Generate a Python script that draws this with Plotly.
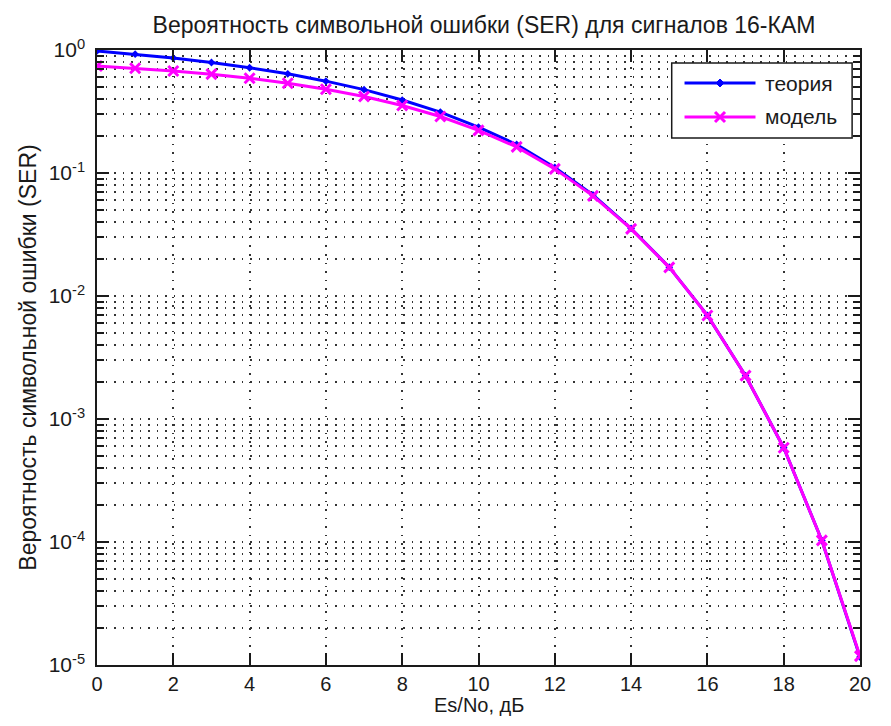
import plotly.graph_objects as go

snr_db = [0, 1, 2, 3, 4, 5, 6, 7, 8, 9, 10, 11, 12, 13, 14, 15, 16, 17, 18, 19, 20]
ser_theory = [0.982, 0.924, 0.860, 0.791, 0.717, 0.640, 0.558, 0.476, 0.392, 0.313,
              0.236, 0.1705, 0.111, 0.0663, 0.0354, 0.01716, 0.00696, 0.00225,
              0.000584, 0.000103, 0.0000116]
ser_model = [0.741, 0.711, 0.675, 0.636, 0.589, 0.537, 0.480, 0.419, 0.354, 0.288,
             0.222, 0.163, 0.108, 0.0652, 0.0351, 0.01709, 0.00695, 0.00225,
             0.000584, 0.000103, 0.0000118]
series_names = ["теория", "модель"]
series_colors = ["#0000ff", "#ff00ff"]

y_tickvals = [1e-5, 1e-4, 1e-3, 1e-2, 1e-1, 1e0]
y_ticktext = ["10<sup>-5</sup>", "10<sup>-4</sup>", "10<sup>-3</sup>",
              "10<sup>-2</sup>", "10<sup>-1</sup>", "10<sup>0</sup>"]
x_tickvals = [0, 2, 4, 6, 8, 10, 12, 14, 16, 18, 20]

FONT = "Liberation Sans, Arial, sans-serif"
TXT = "#1a1a1a"

# the page body adds an 8px margin; size the figure so it never overflows the window
OFF = 8
W, H = 891 - 2 * OFF, 726 - 2 * OFF
L, T = 97 - OFF, 50 - OFF
R = 12
B = H - (665 - OFF)
PW, PH = W - L - R, H - T - B


def px(x_page):
    return (x_page - OFF - L) / PW


def py(y_page):
    return (H - B - (y_page - OFF)) / PH


fig = go.Figure()
fig.add_trace(go.Scatter(
    x=snr_db, y=ser_theory, mode="lines+markers", name=series_names[0],
    line=dict(color=series_colors[0], width=3),
    marker=dict(symbol="diamond", size=6, color=series_colors[0]),
))
fig.add_trace(go.Scatter(
    x=snr_db, y=ser_model, mode="lines+markers", name=series_names[1],
    line=dict(color=series_colors[1], width=3),
    marker=dict(symbol="x-thin", size=10, color=series_colors[1],
                line=dict(color=series_colors[1], width=3)),
))

# MATLAB-like legend box
shapes = [dict(type="rect", xref="paper", yref="paper",
               x0=px(680), x1=px(863), y0=py(138), y1=py(63),
               line=dict(color=TXT, width=1.5), fillcolor="white", layer="above")]
annotations = []
legend_rows = [83, 117]
for i, yrow in enumerate(legend_rows):
    shapes.append(dict(type="line", xref="paper", yref="paper",
                       x0=px(693), x1=px(765), y0=py(yrow), y1=py(yrow),
                       line=dict(color=series_colors[i], width=3), layer="above"))
    if i == 0:
        path = "M-4,0 L0,-4 L4,0 L0,4 Z"
        shapes.append(dict(type="path", xref="paper", yref="paper",
                           xsizemode="pixel", ysizemode="pixel",
                           xanchor=px(729), yanchor=py(yrow), path=path,
                           fillcolor=series_colors[i],
                           line=dict(color=series_colors[i], width=1), layer="above"))
    else:
        path = "M-5,-5 L5,5 M-5,5 L5,-5"
        shapes.append(dict(type="path", xref="paper", yref="paper",
                           xsizemode="pixel", ysizemode="pixel",
                           xanchor=px(729), yanchor=py(yrow), path=path,
                           line=dict(color=series_colors[i], width=3), layer="above"))
    annotations.append(dict(text=series_names[i], xref="paper", yref="paper",
                            x=px(773), y=py(yrow), xanchor="left", yanchor="middle",
                            showarrow=False, font=dict(family=FONT, size=21, color=TXT)))

annotations.append(dict(text="Es/No, дБ", xref="paper", yref="paper",
                        x=0.5, y=py(705), xanchor="center", yanchor="middle",
                        showarrow=False, font=dict(family=FONT, size=20, color=TXT)))

fig.update_layout(
    width=W, height=H,
    margin=dict(l=L, r=R, t=T, b=B),
    paper_bgcolor="white", plot_bgcolor="white",
    font=dict(family=FONT, size=20, color=TXT),
    title=dict(text="Вероятность символьной ошибки (SER) для сигналов 16-КАМ",
               x=(L + PW / 2) / W, xanchor="center", y=1 - (25 - OFF) / H, yanchor="middle",
               font=dict(family=FONT, size=23, color=TXT)),
    showlegend=False,
    shapes=shapes,
    annotations=annotations,
)

GRID = "#333333"
DASH = "1.5px,7px"
fig.update_xaxes(
    range=[0, 20], tickvals=x_tickvals,
    showline=True, linecolor=TXT, linewidth=1.5, mirror="ticks",
    ticks="inside", ticklen=12, tickcolor=TXT, tickwidth=1.5,
    showgrid=True, gridcolor=GRID, griddash=DASH, gridwidth=1.5,
    zeroline=False,
    tickfont=dict(family=FONT, size=20, color=TXT),
)
fig.update_yaxes(
    type="log", range=[-5, 0], tickvals=y_tickvals, ticktext=y_ticktext,
    showline=True, linecolor=TXT, linewidth=1.5, mirror="ticks",
    ticks="inside", ticklen=12, tickcolor=TXT, tickwidth=1.5,
    ticklabelstandoff=6,
    showgrid=True, gridcolor=GRID, griddash=DASH, gridwidth=1.5,
    minor=dict(ticks="inside", ticklen=7, tickcolor=TXT, tickwidth=1.5,
               showgrid=True, gridcolor=GRID, griddash=DASH, gridwidth=1.5,
               dtick="D1"),
    zeroline=False,
    title=dict(text="Вероятность символьной ошибки (SER)", standoff=6,
               font=dict(family=FONT, size=23, color=TXT)),
    tickfont=dict(family=FONT, size=21, color=TXT),
)

fig.write_html("out.html")
